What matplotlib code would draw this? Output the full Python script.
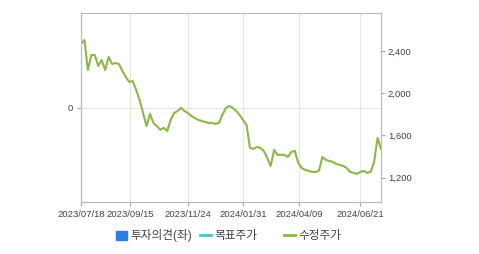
import numpy as np
import pandas as pd
import matplotlib
matplotlib.use('Agg')
from matplotlib import pyplot as plt
from matplotlib.lines import Line2D
from matplotlib.patches import Patch

plt.rcParams['font.family'] = ['Liberation Sans', 'Noto Sans CJK KR', 'DejaVu Sans']

# trading days from 2023/07/18, sampled every 3rd business day
start_date = '2023-07-18'
step = 3
prices = [2466, 2504, 2220, 2362, 2362, 2258, 2315, 2220, 2343, 2277,
          2286, 2277, 2211, 2154, 2107, 2116, 2031, 1936, 1813, 1690,
          1804, 1719, 1690, 1653, 1672, 1643, 1747, 1813, 1832, 1861,
          1832, 1813, 1785, 1766, 1747, 1738, 1728, 1719, 1719, 1709,
          1719, 1795, 1861, 1880, 1861, 1832, 1795, 1747, 1700, 1482,
          1473, 1492, 1482, 1454, 1388, 1312, 1463, 1416, 1416, 1416,
          1397, 1444, 1454, 1340, 1293, 1274, 1265, 1255, 1255, 1265,
          1397, 1369, 1359, 1350, 1331, 1322, 1312, 1293, 1255, 1246,
          1236, 1255, 1265, 1246, 1255, 1350, 1577, 1473]
tick_dates = ['2023/07/18', '2023/09/15', '2023/11/24', '2024/01/31', '2024/04/09', '2024/06/21']
right_ticks = [1200, 1600, 2000, 2400]

days = pd.bdate_range(start_date, periods=step * (len(prices) - 1) + 1)
x = np.arange(len(prices)) * step
tick_pos = [days.searchsorted(pd.Timestamp(d.replace('/', '-'))) for d in tick_dates]

fig = plt.figure(figsize=(4.79, 2.54), dpi=100)
ax = fig.add_axes([81 / 479, 1 - 202 / 254, 300 / 479, 189 / 254])
ax2 = ax.twinx()

green = '#8cb84a'
ax2.plot(x, prices, color=green, linewidth=1.5)
ax2.set_ylim(970, 2760)
ax2.set_yticks(right_ticks)
ax2.set_yticklabels([f'{v:,}' for v in right_ticks])
ax.set_xlim(0, x[-1])
ax.set_ylim(-1, 1)
ax.set_yticks([0])
ax.set_xticks(tick_pos)
ax.set_xticklabels(tick_dates)
ax.grid(True, color='#e6e6e6', linewidth=0.8)
ax.set_axisbelow(True)

for a in (ax, ax2):
    for s in a.spines.values():
        s.set_color('#bbbbbb')
        s.set_linewidth(0.8)
    a.tick_params(colors='#aaaaaa', labelcolor='#444444', labelsize=6.8, length=3, width=0.8)
ax.spines['top'].set_color('#dddddd')
ax.tick_params(axis='x', pad=3)
ax.tick_params(axis='y', pad=3)
ax2.tick_params(axis='y', pad=2)

# legend entries placed one by one
handles = [Patch(color='#2f7fe0'), Line2D([], [], color='#4dc0c8', linewidth=2),
           Line2D([], [], color=green, linewidth=2)]
labels = ['투자의견(좌)', '목표주가', '수정주가']
starts = [116, 200, 284]
for h, lab, sx in zip(handles, labels, starts):
    fig.legend([h], [lab], loc='center left', bbox_to_anchor=(sx / 479, 1 - 236 / 254),
               frameon=False, fontsize=8.4, handlelength=0.95, handleheight=0.85,
               handletextpad=0.3, borderpad=0, borderaxespad=0, labelcolor='#444444')

fig.savefig('out.png', dpi=100)
